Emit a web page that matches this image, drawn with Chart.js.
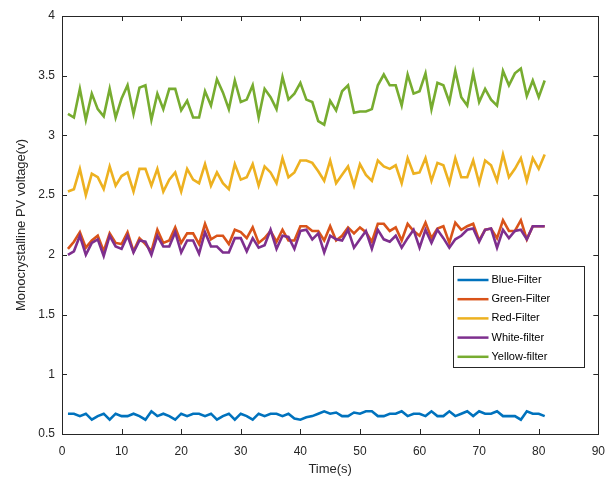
<!DOCTYPE html>
<html>
<head>
<meta charset="utf-8">
<script src="https://cdn.jsdelivr.net/npm/chart.js@4"></script>
<style>
  html, body { margin: 0; padding: 0; background: #fff; }
  #wrap { width: 615px; height: 480px; }
</style>
</head>
<body>
<div id="wrap"><canvas id="chart" width="615" height="480"></canvas></div>
<script>
// time axis (s)
const time = [1,2,3,4,5,6,7,8,9,10,11,12,13,14,15,16,17,18,19,20,
  21,22,23,24,25,26,27,28,29,30,31,32,33,34,35,36,37,38,39,40,
  41,42,43,44,45,46,47,48,49,50,51,52,53,54,55,56,57,58,59,60,
  61,62,63,64,65,66,67,68,69,70,71,72,73,74,75,76,77,78,79,80,81];

const blueFilter = [0.67,0.67,0.65,0.67,0.62,0.65,0.67,0.62,0.67,0.65,
  0.65,0.67,0.65,0.62,0.69,0.65,0.67,0.65,0.62,0.67,
  0.65,0.67,0.67,0.65,0.67,0.62,0.65,0.67,0.62,0.67,
  0.65,0.62,0.67,0.65,0.67,0.67,0.65,0.67,0.63,0.62,
  0.64,0.65,0.67,0.69,0.67,0.68,0.65,0.65,0.68,0.67,
  0.69,0.69,0.65,0.65,0.67,0.67,0.69,0.65,0.67,0.67,
  0.65,0.69,0.65,0.65,0.69,0.65,0.67,0.69,0.65,0.69,
  0.67,0.67,0.69,0.65,0.65,0.65,0.62,0.69,0.67,0.67,0.65];

const greenFilter = [2.05,2.11,2.19,2.06,2.12,2.16,2.03,2.18,2.10,2.09,
  2.19,2.03,2.14,2.09,2.03,2.21,2.10,2.12,2.23,2.10,
  2.18,2.18,2.09,2.26,2.13,2.16,2.16,2.09,2.21,2.19,
  2.14,2.23,2.10,2.14,2.20,2.11,2.21,2.12,2.12,2.24,
  2.24,2.20,2.20,2.12,2.24,2.12,2.16,2.23,2.18,2.23,
  2.19,2.11,2.26,2.26,2.20,2.23,2.12,2.26,2.20,2.16,
  2.27,2.14,2.22,2.24,2.10,2.27,2.21,2.24,2.26,2.12,
  2.21,2.22,2.14,2.29,2.20,2.20,2.29,2.13,2.24,2.24,2.24];

const redFilter = [2.53,2.55,2.72,2.50,2.68,2.65,2.55,2.74,2.58,2.66,
  2.69,2.53,2.72,2.72,2.58,2.72,2.53,2.63,2.69,2.53,
  2.72,2.63,2.60,2.76,2.58,2.69,2.60,2.55,2.76,2.63,
  2.65,2.76,2.58,2.74,2.69,2.60,2.81,2.65,2.69,2.79,
  2.79,2.77,2.70,2.62,2.79,2.60,2.67,2.74,2.58,2.76,
  2.67,2.62,2.79,2.74,2.72,2.75,2.60,2.81,2.68,2.69,
  2.81,2.62,2.77,2.75,2.60,2.81,2.65,2.65,2.79,2.60,
  2.79,2.75,2.62,2.84,2.65,2.72,2.81,2.62,2.81,2.72,2.84];

const whiteFilter = [2.00,2.03,2.16,2.00,2.10,2.13,1.99,2.16,2.07,2.05,
  2.16,2.02,2.12,2.11,2.00,2.16,2.07,2.07,2.19,2.02,
  2.12,2.12,2.01,2.19,2.07,2.07,2.02,2.02,2.14,2.14,
  2.03,2.14,2.06,2.08,2.21,2.05,2.16,2.15,2.05,2.20,
  2.21,2.13,2.18,2.02,2.16,2.13,2.12,2.21,2.06,2.13,
  2.20,2.05,2.21,2.13,2.11,2.16,2.06,2.14,2.21,2.06,
  2.21,2.10,2.21,2.14,2.06,2.13,2.16,2.21,2.22,2.11,
  2.21,2.22,2.06,2.21,2.14,2.20,2.21,2.13,2.24,2.24,2.24];

const yellowFilter = [3.18,3.15,3.39,3.13,3.35,3.22,3.16,3.39,3.15,3.31,
  3.42,3.18,3.40,3.42,3.13,3.35,3.22,3.39,3.39,3.21,
  3.29,3.15,3.15,3.37,3.25,3.47,3.36,3.22,3.46,3.28,
  3.30,3.42,3.15,3.39,3.32,3.22,3.49,3.30,3.35,3.44,
  3.30,3.28,3.12,3.09,3.29,3.21,3.37,3.42,3.19,3.20,
  3.20,3.22,3.42,3.51,3.42,3.42,3.25,3.51,3.35,3.37,
  3.52,3.22,3.44,3.42,3.28,3.54,3.32,3.25,3.52,3.28,
  3.39,3.30,3.25,3.54,3.42,3.52,3.56,3.33,3.46,3.32,3.46];

const seriesNames = ['Blue-Filter', 'Green-Filter', 'Red-Filter', 'White-filter', 'Yellow-filter'];
const seriesData = [blueFilter, greenFilter, redFilter, whiteFilter, yellowFilter];
const seriesColors = ['#0072BD', '#D95319', '#EDB120', '#7E2F8E', '#77AC30'];

const xTicks = [0, 10, 20, 30, 40, 50, 60, 70, 80, 90];
const yTicks = [0.5, 1, 1.5, 2, 2.5, 3, 3.5, 4];

const axisColor = '#262626';
const fontFamily = "'Liberation Sans', Arial, sans-serif";

// matlab style box with inward ticks on all four sides
const boxPlugin = {
  id: 'boxTicks',
  afterDatasetsDraw(chart) {
    const { ctx, chartArea: a, scales } = chart;
    ctx.save();
    ctx.strokeStyle = axisColor;
    ctx.lineWidth = 1;
    ctx.beginPath();
    xTicks.forEach(v => {
      const px = Math.round(scales.x.getPixelForValue(v)) + 0.5;
      ctx.moveTo(px, a.bottom); ctx.lineTo(px, a.bottom - 5);
      ctx.moveTo(px, a.top); ctx.lineTo(px, a.top + 5);
    });
    yTicks.forEach(v => {
      const py = Math.round(scales.y.getPixelForValue(v)) + 0.5;
      ctx.moveTo(a.left, py); ctx.lineTo(a.left + 5, py);
      ctx.moveTo(a.right, py); ctx.lineTo(a.right - 5, py);
    });
    ctx.stroke();
    ctx.strokeRect(Math.round(a.left) + 0.5, Math.round(a.top) + 0.5,
      Math.round(a.right - a.left), Math.round(a.bottom - a.top));
    ctx.restore();
  }
};

// legend box inside the axes, lower right
const legendPlugin = {
  id: 'insideLegend',
  afterDraw(chart) {
    const { ctx } = chart;
    const x0 = 453.5, y0 = 266.5, w = 131, h = 101;
    ctx.save();
    ctx.fillStyle = '#fff';
    ctx.fillRect(x0, y0, w, h);
    ctx.strokeStyle = axisColor;
    ctx.lineWidth = 1;
    ctx.strokeRect(x0, y0, w, h);
    ctx.font = '11px ' + fontFamily;
    ctx.textBaseline = 'middle';
    chart.data.datasets.forEach((ds, i) => {
      const y = y0 + 13.5 + i * 19.2;
      ctx.strokeStyle = ds.borderColor;
      ctx.lineWidth = 2.5;
      ctx.beginPath();
      ctx.moveTo(x0 + 4, y); ctx.lineTo(x0 + 35, y);
      ctx.stroke();
      ctx.fillStyle = '#000';
      ctx.fillText(ds.label, x0 + 38, y);
    });
    ctx.restore();
  }
};

const drawOrder = [5, 4, 3, 2, 1];
const plainNum = v => String(Number(v));

new Chart(document.getElementById('chart').getContext('2d'), {
  type: 'line',
  data: {
    labels: time,
    datasets: seriesNames.map((name, i) => ({
      label: name,
      data: time.map((t, j) => ({ x: t, y: seriesData[i][j] })),
      borderColor: seriesColors[i],
      backgroundColor: seriesColors[i],
      borderWidth: 2.6,
      pointRadius: 0,
      tension: 0,
      fill: false,
      order: drawOrder[i]
    }))
  },
  options: {
    responsive: false,
    animation: false,
    events: [],
    layout: { padding: { top: 16, right: 15, left: 0, bottom: 0 } },
    plugins: { legend: { display: false }, tooltip: { enabled: false } },
    scales: {
      x: {
        type: 'linear',
        min: 0, max: 90,
        afterFit: s => { s.height = 46; },
        afterBuildTicks: s => { s.ticks = xTicks.map(v => ({ value: v })); },
        grid: { display: false, drawTicks: false },
        border: { display: false },
        ticks: { color: axisColor, font: { family: fontFamily, size: 12 }, padding: 10, maxRotation: 0, callback: plainNum },
        title: { display: true, text: 'Time(s)', color: axisColor, font: { family: fontFamily, size: 13 }, padding: { top: 0, bottom: 3 } }
      },
      y: {
        type: 'linear',
        min: 0.5, max: 4,
        afterFit: s => { s.width = 62; },
        afterBuildTicks: s => { s.ticks = yTicks.map(v => ({ value: v })); },
        grid: { display: false, drawTicks: false },
        border: { display: false },
        ticks: { color: axisColor, font: { family: fontFamily, size: 12 }, padding: 7, callback: plainNum },
        title: { display: true, text: 'Monocrystalline PV voltage(v)', color: axisColor, font: { family: fontFamily, size: 13 }, padding: { top: 14, bottom: 0 } }
      }
    }
  },
  plugins: [boxPlugin, legendPlugin]
});
</script>
</body>
</html>
